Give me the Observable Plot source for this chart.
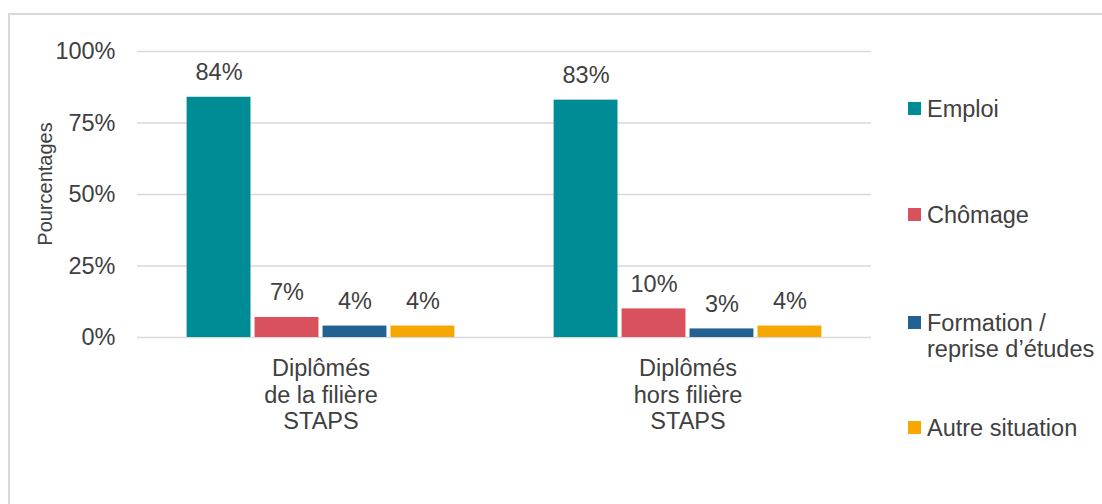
<!DOCTYPE html>
<html>
<head>
<meta charset="utf-8">
<script src="https://cdn.jsdelivr.net/npm/d3@7"></script>
<script src="https://cdn.jsdelivr.net/npm/@observablehq/plot@0.6"></script>
<style>
  html, body { margin: 0; padding: 0; background: #fff; }
  #wrap { position: relative; width: 1102px; height: 504px; overflow: hidden; font-family: "Liberation Sans", Arial, sans-serif; color: #404040; }
  #frame { position: absolute; left: 8px; top: 13px; width: 1300px; height: 700px; border: 2px solid #d9d9d9; box-sizing: border-box; }
  #chart { position: absolute; left: 0; top: 0; }
  #ylabel { position: absolute; left: 45px; top: 184px; transform: translate(-50%, -50%) rotate(-90deg); font-size: 20px; white-space: nowrap; }
  .leg { position: absolute; left: 908px; font-size: 23.5px; line-height: 26.5px; white-space: nowrap; }
  .leg .sw { position: absolute; left: 0; top: 6.5px; width: 13px; height: 13px; }
  .leg .tx { position: absolute; left: 19px; top: 0; }
</style>
</head>
<body>
<div id="wrap">
  <div id="frame"></div>
  <div id="chart"></div>
  <div id="ylabel">Pourcentages</div>
  <div id="legend"></div>
</div>
<script>
const categories = ["Diplômés\nde la filière\nSTAPS", "Diplômés\nhors filière\nSTAPS"];
const series = ["Emploi", "Chômage", "Formation /\nreprise d’études", "Autre situation"];
const colors = ["#008C95", "#D9515C", "#236192", "#F7A800"];
const valuesFiliere = [84, 7, 4, 4];
const valuesHors = [83, 10, 3, 4];
const yTicks = [0, 25, 50, 75, 100];
const legendCenters = [109, 215, 323, 428];

const data = [];
[valuesFiliere, valuesHors].forEach((vals, ci) => {
  vals.forEach((v, si) => data.push({cat: categories[ci], s: series[si], v}));
});

const FS = 23.5;
const chart = Plot.plot({
  width: 900,
  height: 460,
  marginLeft: 137,
  marginRight: 29,
  marginTop: 51,
  marginBottom: 123,
  style: {fontFamily: "'Liberation Sans', Arial, sans-serif", fontSize: FS + "px", color: "#404040", background: "transparent", overflow: "visible"},
  fx: {domain: categories, padding: 0, label: null, round: false},
  x: {domain: series, paddingInner: 0.06, paddingOuter: 0.73, axis: null, round: false},
  y: {domain: [0, 100], ticks: yTicks, label: null},
  color: {domain: series, range: colors},
  marks: [
    Plot.ruleY(yTicks, {stroke: "#d9d9d9", strokeWidth: 1.5}),
    Plot.axisY({ticks: yTicks, tickSize: 0, tickPadding: 22, tickFormat: d => d + "%", fontSize: FS, label: null}),
    Plot.axisFx({anchor: "bottom", tickSize: 0, tickPadding: 20, fontSize: FS, lineHeight: 1.13, label: null, tickFormat: d => d}),
    Plot.barY(data, {fx: "cat", x: "s", y: "v", fill: "s"}),
    Plot.text(data, {fx: "cat", x: "s", y: "v", text: d => d.v + "%", lineAnchor: "bottom", dy: -17, fontSize: FS, fill: "#404040"})
  ]
});
document.getElementById("chart").appendChild(chart);

const legend = document.getElementById("legend");
series.forEach((s, i) => {
  const item = document.createElement("div");
  item.className = "leg";
  item.style.top = (legendCenters[i] - 13.25) + "px";
  const sw = document.createElement("div");
  sw.className = "sw";
  sw.style.background = colors[i];
  const tx = document.createElement("div");
  tx.className = "tx";
  tx.innerHTML = s.replace("\n", "<br>");
  item.appendChild(sw);
  item.appendChild(tx);
  legend.appendChild(item);
});
</script>
</body>
</html>
